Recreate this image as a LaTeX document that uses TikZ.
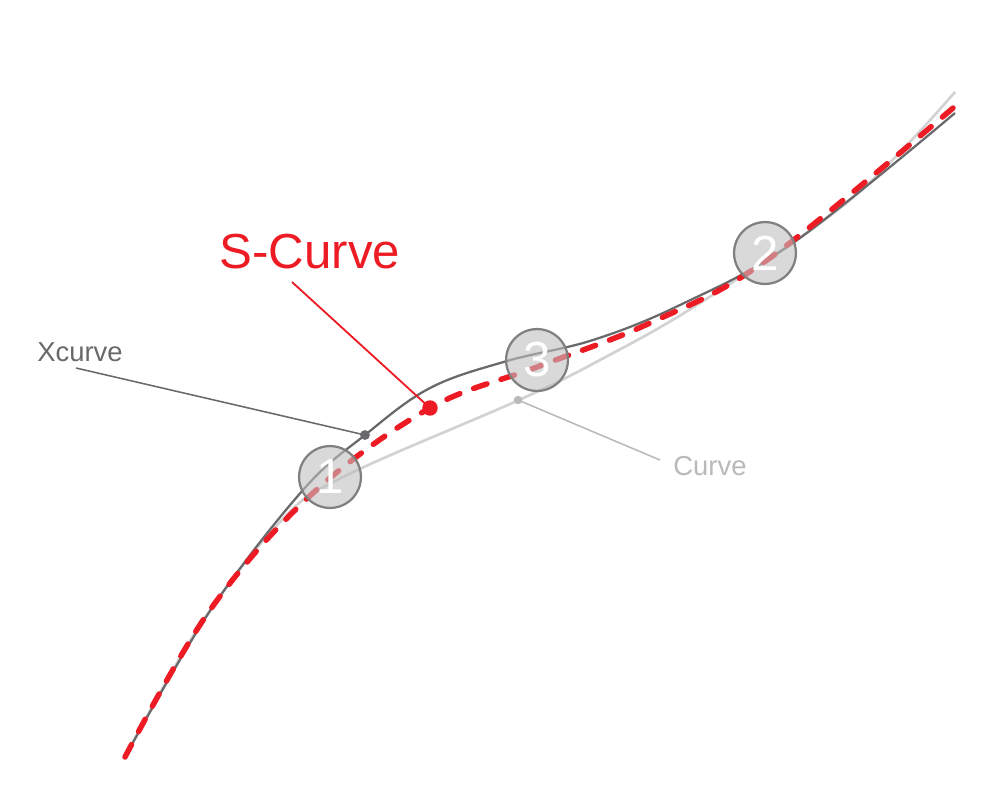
\documentclass[tikz,border=0pt]{standalone}
\usepackage{fontspec}
\setmainfont{Liberation Sans}
\definecolor{scred}{RGB}{237,28,36}
\definecolor{xgray}{RGB}{105,105,108}
\definecolor{lgray}{RGB}{210,210,210}
\definecolor{tgray}{RGB}{185,185,188}

\begin{document}
\begin{tikzpicture}[x=0.025cm,y=-0.025cm,
    dot/.style={circle,fill=#1,inner sep=0pt},
    knot/.style={circle,draw=black!50,line width=1.6pt,fill=black!25,
      fill opacity=.6,text opacity=1,text=white,minimum size=44pt,
      inner sep=0pt,font=\fontsize{35}{35}\selectfont}]
  \useasboundingbox (0,0) rectangle (1000,792);
  % the three curves
  \draw[lgray,line width=1.9pt] plot[smooth,tension=.6] coordinates {(125,757) (200,625)
    (280,522) (343,477) (519,400) (600,360) (700,303) (850,200) (955,92)};
  \draw[xgray,line width=1.6pt] plot[smooth,tension=.6] coordinates {(125,757) (210,611)
    (303,490) (365,435) (430,388) (507,361) (593,340) (680,305) (793,243) (955,113)};
  \draw[scred,line width=3.9pt,line cap=round,dash pattern=on 10pt off 10.5pt]
    plot[smooth,tension=.6] coordinates {(125,757) (210,610) (313,493) (430,408)
    (537,367) (650,323) (767,260) (953,108)};
  % labels
  \node[scred,font=\fontsize{35}{35}\selectfont] (sc) at (310,252) {S-Curve};
  \node[xgray,font=\fontsize{19.5}{20}\selectfont] (xc) at (80,352) {Xcurve};
  \node[tgray,font=\fontsize{19.5}{20}\selectfont] (cv) at (710,466) {Curve};
  \node[dot=scred,minimum size=11pt] (scd) at (430,408) {};
  \node[dot=xgray,minimum size=7pt] (xcd) at (365,435) {};
  \node[dot=tgray,minimum size=6pt] (cvd) at (518,400) {};
  \coordinate (sca) at (292,282);
  \coordinate (xca) at (76,368);
  \coordinate (cva) at (660,460);
  \draw[scred,line width=1.3pt] (sca) -- (scd.center);
  \draw[xgray,line width=1.1pt] (xca) -- (xcd.center);
  \draw[tgray,line width=1.1pt] (cva) -- (cvd.center);
  % control points
  \node[knot] (p1) at (330,477) {1};
  \node[knot] (p2) at (765,253) {2};
  \node[knot] (p3) at (537,360) {3};
\end{tikzpicture}
\end{document}
